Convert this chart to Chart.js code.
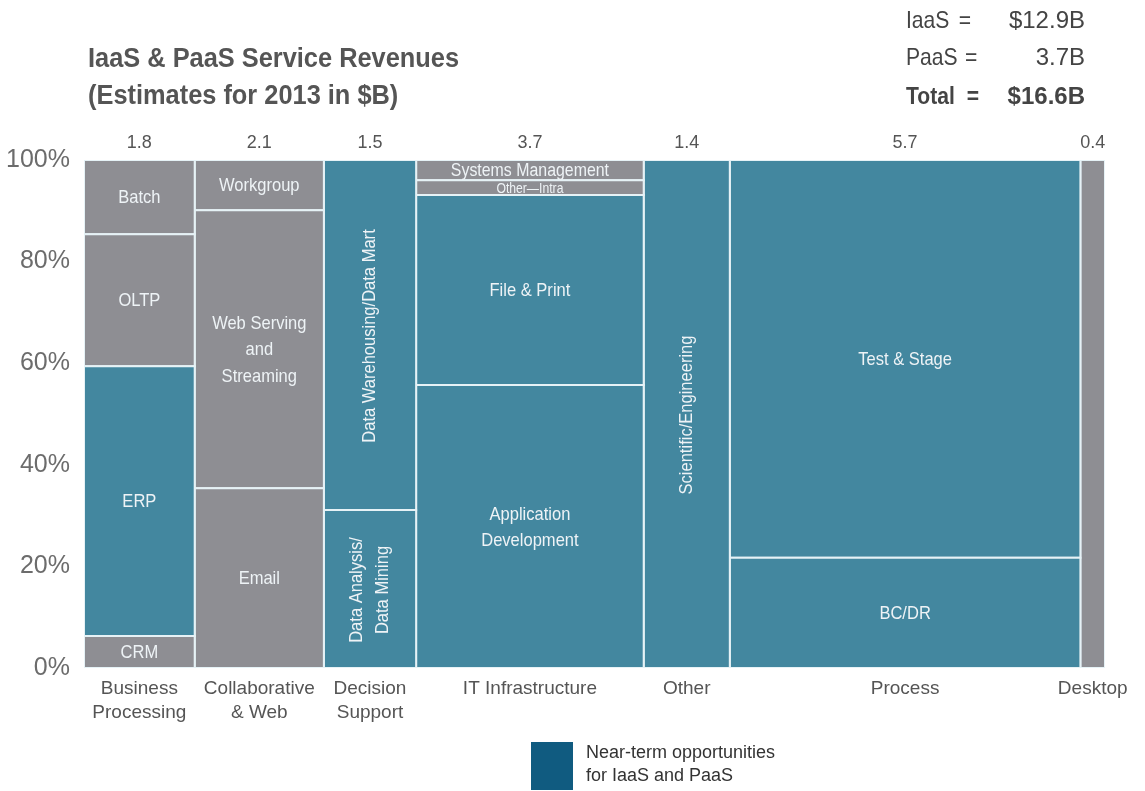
<!DOCTYPE html>
<html>
<head>
<meta charset="utf-8">
<script src="https://cdn.jsdelivr.net/npm/chart.js@4.4.1/dist/chart.umd.min.js"></script>
<style>
  body { margin: 0; background: #fff; font-family: 'Liberation Sans', Arial, sans-serif; }
  #wrap { position: relative; width: 1145px; height: 791px; overflow: hidden; }
  #chart { position: absolute; left: 0; top: 0; }
  .title { position: absolute; left: 88px; top: 40px; font-weight: bold; font-size: 27px; line-height: 37px; color: #555; white-space: nowrap; transform: scaleX(0.94); transform-origin: left top; }
  .totals { position: absolute; left: 906px; top: 0; width: 100px; height: 120px; transform: scaleX(0.88); transform-origin: left top; }
  .tot { position: absolute; font-size: 24px; line-height: 30px; color: #444; white-space: nowrap; }
  .tot.b { font-weight: bold; }
  .tot.val { right: 60px; text-align: right; }
  .legend-box { position: absolute; left: 531px; top: 742px; width: 42px; height: 48px; background: #105b80; }
  .legend-text { position: absolute; left: 586px; top: 741px; font-size: 18px; line-height: 23px; color: #333; }
</style>
</head>
<body>
<div id="wrap">
  <canvas id="chart" width="1145" height="791"></canvas>
  <div class="title">IaaS &amp; PaaS Service Revenues<br>(Estimates for 2013 in $B)</div>
  <div class="totals">
    <div class="tot" style="left:0;top:5px">IaaS</div>
    <div class="tot" style="left:60px;top:5px">=</div>
    <div class="tot" style="left:0;top:42px">PaaS</div>
    <div class="tot" style="left:67px;top:42px">=</div>
    <div class="tot b" style="left:0;top:81px">Total</div>
    <div class="tot b" style="left:69px;top:81px">=</div>
  </div>
  <div class="tot val" style="top:5px">$12.9B</div>
  <div class="tot val" style="top:42px">3.7B</div>
  <div class="tot b val" style="top:81px">$16.6B</div>
  <div class="legend-box"></div>
  <div class="legend-text">Near-term opportunities<br>for IaaS and PaaS</div>
</div>
<script>
// Datos: ancho de columna = ingresos ($B), alto de segmento = % dentro de la columna
const columnLabels = [['Business', 'Processing'], ['Collaborative', '& Web'], ['Decision', 'Support'], ['IT Infrastructure'], ['Other'], ['Process'], ['Desktop']];
const columnValues = [1.8, 2.1, 1.5, 3.7, 1.4, 5.7, 0.4];

const segmentLabels = [
    ['CRM', 'ERP', 'OLTP', 'Batch'],
    ['Email', ['Web Serving', 'and', 'Streaming'], 'Workgroup'],
    [['Data Analysis/', 'Data Mining'], 'Data Warehousing/Data Mart'],
    [['Application', 'Development'], 'File & Print', 'Other\u2014Intra', 'Systems Management'],
    ['Scientific/Engineering'],
    ['BC/DR', 'Test & Stage'],
    ['']
];
const segmentShares = [
    [6.3, 53.1, 26.0, 14.6],
    [35.4, 54.7, 9.9],
    [31.1, 68.9],
    [55.7, 37.4, 2.9, 4.0],
    [100],
    [21.7, 78.3],
    [100]
];
// 1 = oportunidad a corto plazo (azul)
const nearTerm = [
    [0, 1, 0, 0],
    [0, 0, 0],
    [1, 1],
    [1, 1, 0, 0],
    [1],
    [1, 1],
    [0]
];
const rotatedLabels = [
    [0, 0, 0, 0],
    [0, 0, 0],
    [1, 1],
    [0, 0, 0, 0],
    [1],
    [0, 0],
    [0]
];
const yTickStep = 20;

const BLUE = '#43879f';
const GREY = '#8e8e93';
const EDGE = '#e6f2f6';
const FONT = "'Liberation Sans', Arial, sans-serif";

const total = columnValues.reduce((a, b) => a + b, 0);
const centers = [];
const datasets = [];
let x0 = 0;
columnValues.forEach((w, c) => {
    const x1 = x0 + w;
    centers.push((x0 + x1) / 2);
    let y0 = 0;
    segmentShares[c].forEach((s, i) => {
        const y1 = y0 + s;
        datasets.push({
            data: [{x: x0, y: y0}, {x: x1, y: y0}, {x: x1, y: y1}, {x: x0, y: y1}, {x: x0, y: y0}],
            backgroundColor: nearTerm[c][i] ? BLUE : GREY,
            borderColor: EDGE,
            borderWidth: 2,
            fill: 'shape',
            pointRadius: 0,
            pointHoverRadius: 0,
            tension: 0,
            segLabel: segmentLabels[c][i],
            rotated: rotatedLabels[c][i]
        });
        y0 = y1;
    });
    x0 = x1;
});

// Texto dentro de cada bloque (algo estrecho, como el original)
const segmentText = {
    id: 'segmentText',
    afterDatasetsDraw(chart) {
        const {ctx, scales: {x, y}} = chart;
        chart.data.datasets.forEach(ds => {
            if (!ds.segLabel) return;
            const p = ds.data;
            const left = x.getPixelForValue(p[0].x), right = x.getPixelForValue(p[1].x);
            const bottom = y.getPixelForValue(p[0].y), top = y.getPixelForValue(p[2].y);
            const h = bottom - top;
            const lines = Array.isArray(ds.segLabel) ? ds.segLabel : [ds.segLabel];
            const size = Math.min(19, Math.max(14, h * 0.9));
            const lh = size * 1.38;
            ctx.save();
            ctx.fillStyle = '#eef3f6';
            ctx.font = size + 'px ' + FONT;
            ctx.textAlign = 'center';
            ctx.textBaseline = 'middle';
            ctx.translate((left + right) / 2, (top + bottom) / 2 + 1);
            if (ds.rotated) ctx.rotate(-Math.PI / 2);
            ctx.scale(0.87, 1);
            lines.forEach((t, k) => {
                ctx.fillText(t, 0, (k - (lines.length - 1) / 2) * lh);
            });
            ctx.restore();
        });
    }
};

Chart.defaults.font.family = FONT;

new Chart(document.getElementById('chart'), {
    type: 'line',
    data: { datasets: datasets },
    options: {
        responsive: false,
        animation: false,
        events: [],
        layout: { padding: { left: 0, right: 40, top: 130, bottom: 63 } },
        plugins: { legend: { display: false }, tooltip: { enabled: false } },
        scales: {
            x: {
                type: 'linear', min: 0, max: total, position: 'bottom',
                grid: { display: false, drawTicks: false },
                border: { display: false },
                afterBuildTicks: s => { s.ticks = centers.map(v => ({value: v})); },
                afterFit: s => { s.height = 60; },
                ticks: {
                    autoSkip: false, maxRotation: 0, padding: 8,
                    color: '#555', font: { size: 19, lineHeight: 1.3 },
                    callback: (v, i) => columnLabels[i]
                }
            },
            x2: {
                type: 'linear', min: 0, max: total, position: 'top',
                grid: { display: false, drawTicks: false },
                border: { display: false },
                afterBuildTicks: s => { s.ticks = centers.map(v => ({value: v})); },
                afterFit: s => { s.height = 30; },
                ticks: {
                    autoSkip: false, maxRotation: 0, padding: 6,
                    color: '#555', font: { size: 18 },
                    callback: (v, i) => columnValues[i].toFixed(1)
                }
            },
            y: {
                min: 0, max: 100,
                grid: { display: false, drawTicks: false },
                border: { display: false },
                afterFit: s => { s.width = 84; },
                ticks: {
                    stepSize: yTickStep, padding: 14,
                    color: '#6c6c6c', font: { size: 25 },
                    callback: v => v + '%'
                }
            }
        }
    },
    plugins: [segmentText]
});
</script>
</body>
</html>
